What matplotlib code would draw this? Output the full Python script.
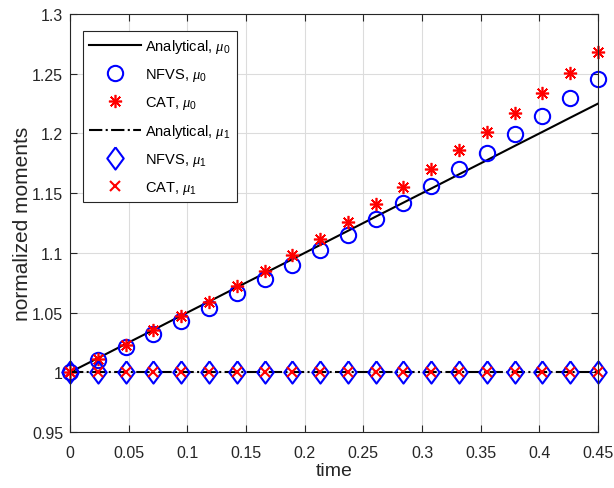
import matplotlib
matplotlib.use("Agg")
import matplotlib.pyplot as plt

plt.rcParams['font.family'] = ['Liberation Sans', 'DejaVu Sans']
plt.rcParams['mathtext.fontset'] = 'custom'
plt.rcParams['mathtext.it'] = 'Liberation Serif:italic'
plt.rcParams['mathtext.rm'] = 'Liberation Sans'

# sample times
time = [0.0, 0.0237, 0.0474, 0.0711, 0.0947, 0.1184, 0.1421, 0.1658, 0.1895, 0.2132,
        0.2368, 0.2605, 0.2842, 0.3079, 0.3316, 0.3553, 0.3789, 0.4026, 0.4263, 0.45]

# analytical moments
ana_mu0 = [1.0, 1.0118, 1.0237, 1.0355, 1.0474, 1.0592, 1.0711, 1.0829, 1.0947, 1.1066,
           1.1184, 1.1303, 1.1421, 1.1539, 1.1658, 1.1776, 1.1895, 1.2013, 1.2132, 1.225]
ana_mu1 = [1.0] * 20

# NFVS
nfvs_mu0 = [1.0, 1.010, 1.021, 1.032, 1.043, 1.054, 1.066, 1.078, 1.090, 1.102,
            1.115, 1.128, 1.142, 1.156, 1.170, 1.184, 1.1995, 1.215, 1.230, 1.246]
nfvs_mu1 = [1.0] * 20

# CAT
cat_mu0 = [1.0, 1.011, 1.023, 1.035, 1.047, 1.059, 1.072, 1.085, 1.098, 1.112,
           1.126, 1.141, 1.155, 1.170, 1.186, 1.201, 1.217, 1.234, 1.251, 1.268]
cat_mu1 = [1.0] * 20

xticks = [0, 0.05, 0.1, 0.15, 0.2, 0.25, 0.3, 0.35, 0.4, 0.45]
xlabels = ['0', '0.05', '0.1', '0.15', '0.2', '0.25', '0.3', '0.35', '0.4', '0.45']
yticks = [0.95, 1.0, 1.05, 1.1, 1.15, 1.2, 1.25, 1.3]
ylabels = ['0.95', '1', '1.05', '1.1', '1.15', '1.2', '1.25', '1.3']

fig = plt.figure(figsize=(6.14, 4.89), dpi=100)
ax = fig.add_axes([0.114, 0.1145, 0.86, 0.8548])

star = (8, 2, 0)
diamond = [(0, 1), (0.74, 0), (0, -1), (-0.74, 0), (0, 1)]
ax.plot(time, ana_mu0, '-', color='k', lw=1.5, label=r'Analytical, $\mu_0$')
ax.plot(time, nfvs_mu0, 'o', mfc='none', mec='b', mew=1.5, ms=11, clip_on=False,
        label=r'NFVS, $\mu_0$')
ax.plot(time, cat_mu0, ls='none', marker=star, mec='r', mew=1.2, ms=9.5, clip_on=False,
        label=r'CAT, $\mu_0$')
ax.plot(time, ana_mu1, '-.', color='k', lw=1.5, label=r'Analytical, $\mu_1$')
ax.plot(time, nfvs_mu1, ls='none', marker=diamond, mfc='none', mec='b', mew=1.5, ms=16,
        clip_on=False, label=r'NFVS, $\mu_1$')
ax.plot(time, cat_mu1, 'x', mec='r', mew=1.5, ms=7, clip_on=False, label=r'CAT, $\mu_1$')

ax.set_xlim(0, 0.45)
ax.set_ylim(0.95, 1.3)
ax.set_xticks(xticks)
ax.set_xticklabels(xlabels)
ax.set_yticks(yticks)
ax.set_yticklabels(ylabels)
ax.grid(True, color='#dcdcdc', lw=0.8)
ax.set_axisbelow(True)
for s in ax.spines.values():
    s.set_color('#262626')
    s.set_linewidth(0.8)
ax.tick_params(direction='in', top=True, right=True, labelsize=11.5, colors='#262626',
               labelcolor='#262626', length=5)
ax.tick_params(axis='x', pad=9)
ax.tick_params(axis='y', pad=5)
ax.set_xlabel('time', fontsize=14, color='#262626', labelpad=2)
ax.set_ylabel('normalized moments', fontsize=15, color='#262626', labelpad=0)

leg = ax.legend(loc='upper left', bbox_to_anchor=(0.024, 0.959), fontsize=10.5,
                fancybox=False, framealpha=1, edgecolor='#262626', handlelength=3.6,
                borderpad=0.4, labelspacing=0.75, handletextpad=0.3, borderaxespad=0)
leg.get_frame().set_linewidth(0.8)

fig.savefig('out.png', dpi=100)
